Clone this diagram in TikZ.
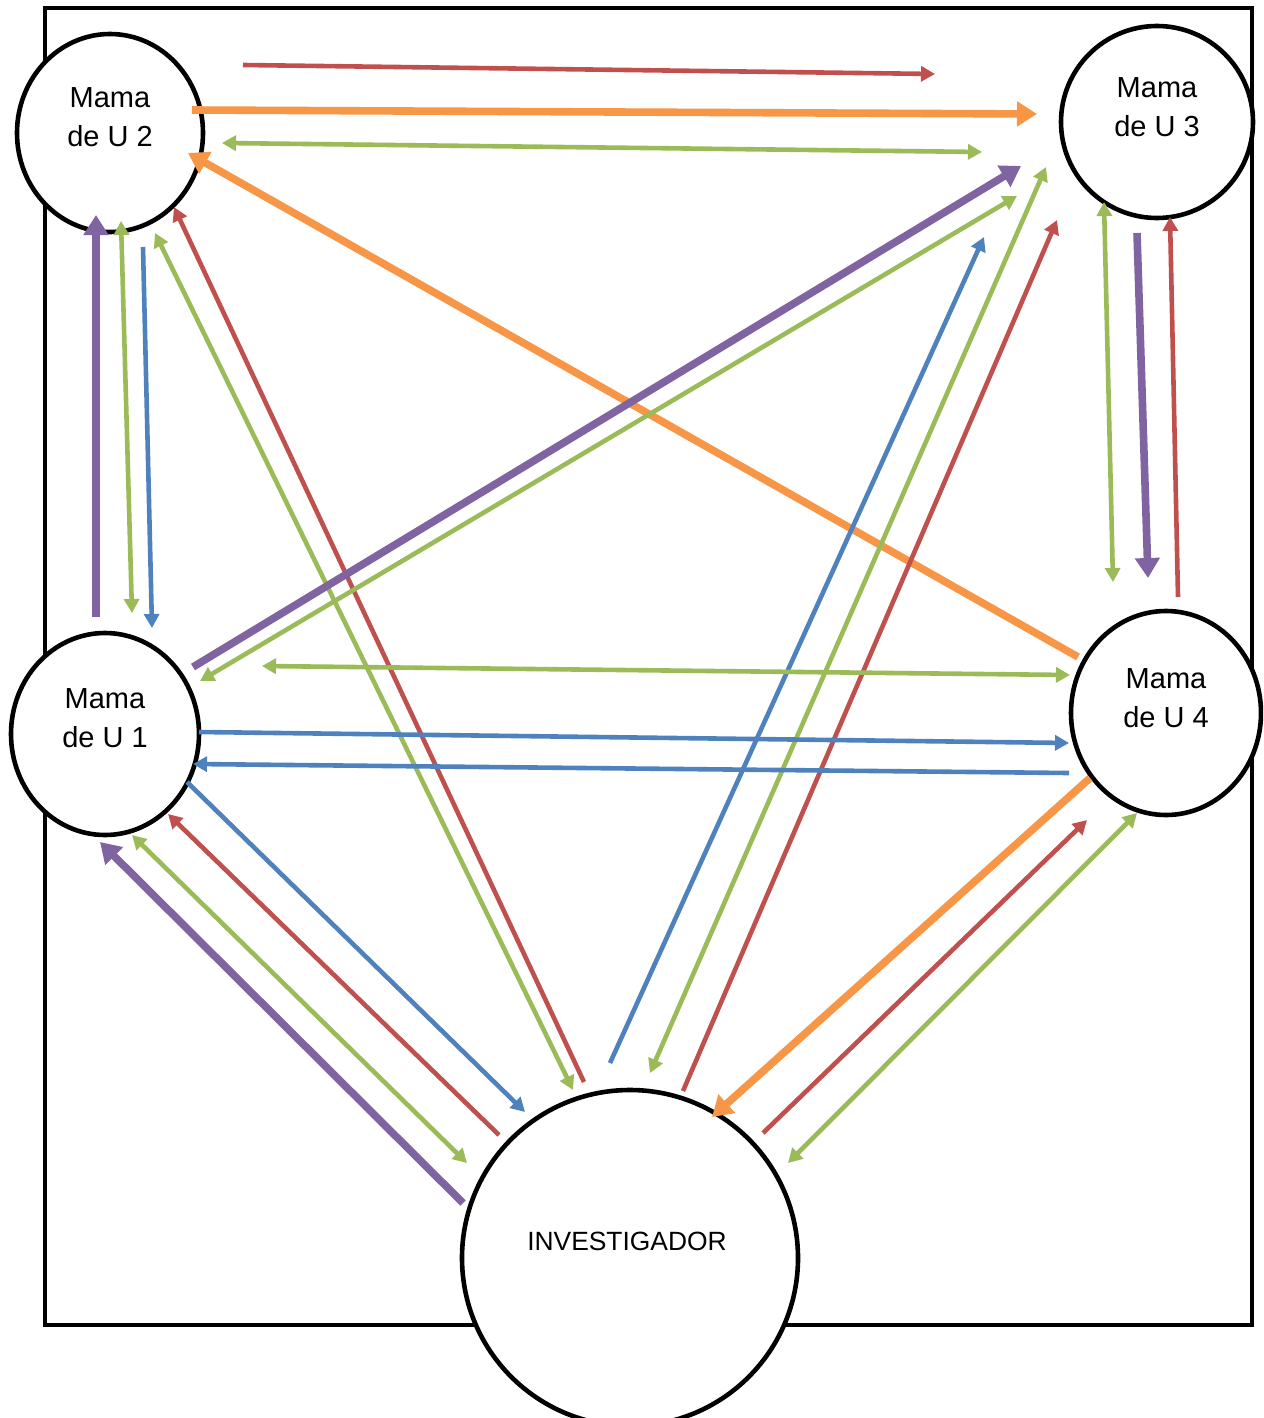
\documentclass[tikz,border=0pt]{standalone}
\usepackage{fontspec}
\setmainfont{Liberation Sans}
\usetikzlibrary{arrows.meta,shapes.geometric,calc}

\definecolor{cred}{HTML}{C0504D}
\definecolor{corange}{HTML}{F79646}
\definecolor{cgreen}{HTML}{9BBB59}
\definecolor{cblue}{HTML}{4F81BD}
\definecolor{cpurple}{HTML}{8064A2}

\begin{document}
\begin{tikzpicture}[
  x=0.5pt, y=-0.5pt,
  mama/.style={draw, line width=2.3pt, fill=white, ellipse, inner sep=0pt},
  lbl/.style={align=center, inner sep=0pt, font=\fontsize{14.5}{19.5}\selectfont},
  one/.style={line width=2.3pt, -{Triangle[length=7pt,width=7.5pt]}},
  two/.style={line width=2.3pt, {Triangle[length=7pt,width=7.5pt]}-{Triangle[length=7pt,width=7.5pt]}},
  big/.style={line width=3.8pt, -{Triangle[length=10pt,width=12pt]}}
]
\clip (0,0) rectangle (1263,1418);
\useasboundingbox (0,0) rectangle (1263,1418);

% frame
\draw[line width=2pt] (45,8) rectangle (1252,1325);

% participants
\node[mama, minimum width=93pt, minimum height=99pt] (u2) at (110,133) {};
\node[mama, minimum width=96pt, minimum height=96pt] (u3) at (1157,122) {};
\node[mama, minimum width=94pt, minimum height=101pt] (u1) at (105,734) {};
\node[mama, minimum width=95pt, minimum height=102pt] (u4) at (1166,713) {};
\node[mama, minimum width=168pt, minimum height=168pt] (inv) at (630,1258) {};

\node[lbl] (u2t) at ($(u2)+(0,-16)$) {Mama\\de U 2};
\node[lbl] (u3t) at ($(u3)+(0,-15)$) {Mama\\de U 3};
\node[lbl] (u1t) at ($(u1)+(0,-16)$) {Mama\\de U 1};
\node[lbl] (u4t) at ($(u4)+(0,-15)$) {Mama\\de U 4};
\node[lbl, font=\fontsize{13.2}{16}\selectfont] (invt) at ($(inv)+(-3,-17)$) {INVESTIGADOR};

% U2 -- U3
\draw[one, cred] ($(u2)+(133,-68)$) -- ($(u3)+(-222,-48)$);
\draw[big, corange] ($(u2)+(82,-23)$) -- ($(u3)+(-120,-8)$);
\draw[two, cgreen] ($(u2)+(112,10)$) -- ($(u3)+(-175,30)$);

% U4 -> U2
\draw[big, corange] ($(u4)+(-88,-56)$) -- ($(u2)+(78,20)$);

% U1 -- U2
\draw[big, cpurple] ($(u1)+(-9,-117)$) -- ($(u2)+(-14,82)$);
\draw[two, cgreen] ($(u2)+(11,88)$) -- ($(u1)+(27,-121)$);
\draw[one, cblue] ($(u2)+(33,114)$) -- ($(u1)+(47,-106)$);

% INV -- U2
\draw[two, cgreen] ($(u2)+(45,100)$) -- ($(inv)+(-57,-168)$);
\draw[one, cred] ($(inv)+(-46,-176)$) -- ($(u2)+(64,74)$);

% U1 -- U3
\draw[big, cpurple] ($(u1)+(88,-67)$) -- ($(u3)+(-136,44)$);
\draw[two, cgreen] ($(u1)+(95,-53)$) -- ($(u3)+(-140,74)$);

% INV -- U3
\draw[one, cblue] ($(inv)+(-20,-195)$) -- ($(u3)+(-173,115)$);
\draw[two, cgreen] ($(inv)+(20,-185)$) -- ($(u3)+(-111,45)$);
\draw[one, cred] ($(inv)+(53,-167)$) -- ($(u3)+(-100,98)$);

% U3 -- U4
\draw[two, cgreen] ($(u3)+(-53,80)$) -- ($(u4)+(-53,-131)$);
\draw[big, cpurple] ($(u3)+(-20,111)$) -- ($(u4)+(-18,-135)$);
\draw[one, cred] ($(u4)+(12,-116)$) -- ($(u3)+(13,95)$);

% U1 -- U4
\draw[two, cgreen] ($(u1)+(157,-68)$) -- ($(u4)+(-96,-38)$);
\draw[one, cblue] ($(u1)+(94,-2)$) -- ($(u4)+(-97,30)$);
\draw[one, cblue] ($(u4)+(-97,60)$) -- ($(u1)+(88,30)$);

% INV -- U1
\draw[big, cpurple] ($(inv)+(-167,-55)$) -- ($(u1)+(-5,108)$);
\draw[two, cgreen] ($(u1)+(27,101)$) -- ($(inv)+(-163,-95)$);
\draw[one, cred] ($(inv)+(-131,-123)$) -- ($(u1)+(63,80)$);
\draw[one, cblue] ($(u1)+(82,48)$) -- ($(inv)+(-105,-146)$);

% INV -- U4
\draw[big, corange] ($(u4)+(-76,65)$) -- ($(inv)+(82,-141)$);
\draw[one, cred] ($(inv)+(133,-125)$) -- ($(u4)+(-79,107)$);
\draw[two, cgreen] ($(inv)+(158,-95)$) -- ($(u4)+(-29,100)$);
\end{tikzpicture}
\end{document}
